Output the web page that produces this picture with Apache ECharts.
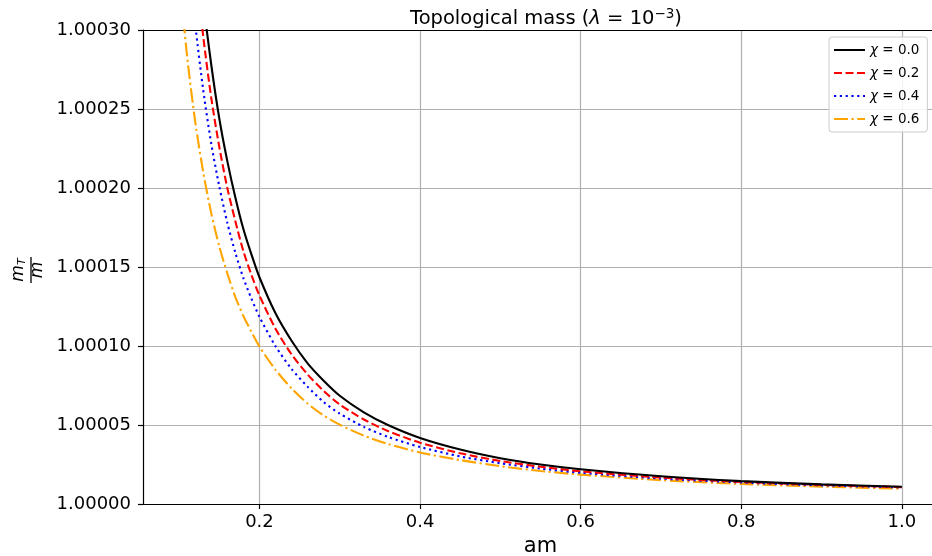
<!DOCTYPE html>
<html>
<head>
<meta charset="utf-8">
<script src="https://cdn.jsdelivr.net/npm/echarts@6/dist/echarts.min.js"></script>
<style>html,body{margin:0;padding:0;background:#fff;overflow:hidden}#c{width:932px;height:556px}</style>
</head>
<body>
<div id="c"></div>
<script>
// am values (x axis)
var amValues = [0.10, 0.11, 0.12, 0.13, 0.14, 0.15, 0.16, 0.17, 0.18, 0.19, 0.20, 0.22, 0.24, 0.26, 0.28, 0.30, 0.33, 0.36, 0.40, 0.45, 0.50, 0.55, 0.60, 0.70, 0.80, 0.90, 1.00];
// m_T / m for each chi
var chi00 = [1.000526, 1.000438, 1.000372, 1.000319, 1.000278, 1.000244, 1.000217, 1.000194, 1.000174, 1.000158, 1.0001435, 1.0001207, 1.0001033, 1.0000890, 1.0000780, 1.0000685, 1.0000580, 1.0000500, 1.0000418, 1.0000345, 1.0000290, 1.0000250, 1.0000220, 1.0000176, 1.0000145, 1.0000124, 1.0000109];
var chi02 = [1.000490, 1.000408, 1.000345, 1.000296, 1.000257, 1.000226, 1.000200, 1.000179, 1.000160, 1.000145, 1.0001320, 1.0001109, 1.0000947, 1.0000820, 1.0000715, 1.0000630, 1.0000535, 1.0000462, 1.0000388, 1.0000321, 1.0000272, 1.0000236, 1.0000207, 1.0000167, 1.0000140, 1.0000121, 1.0000107];
var chi04 = [1.000430, 1.000359, 1.000304, 1.000262, 1.000228, 1.000201, 1.000178, 1.000159, 1.000143, 1.000130, 1.0001185, 1.0000999, 1.0000855, 1.0000742, 1.0000645, 1.0000572, 1.0000488, 1.0000425, 1.0000361, 1.0000301, 1.0000258, 1.0000224, 1.0000198, 1.0000161, 1.0000136, 1.0000118, 1.0000105];
var chi06 = [1.000336, 1.000283, 1.000242, 1.000210, 1.000184, 1.000163, 1.000146, 1.000131, 1.000119, 1.000109, 1.0000996, 1.0000849, 1.0000732, 1.0000635, 1.0000560, 1.0000502, 1.0000433, 1.0000380, 1.0000326, 1.0000278, 1.0000239, 1.0000209, 1.0000186, 1.0000151, 1.0000127, 1.0000110, 1.0000097];
var chiLabels = ['0.0', '0.2', '0.4', '0.6'];
var xTicks = [0.2, 0.4, 0.6, 0.8, 1.0];

var seriesData = [chi00, chi02, chi04, chi06];
var colors = ['#000000', '#ff0000', '#0000ff', '#ffa500'];
var dashes = ['solid', [8, 3.5], [2.2, 3.6], [14, 3.5, 2.2, 3.5]];
var FONT = 'DejaVu Sans';

function pairs(ys) { return amValues.map(function (x, i) { return [x, ys[i]]; }); }

var series = seriesData.map(function (ys, k) {
  return {
    name: 'χ = ' + chiLabels[k],
    type: 'line',
    data: pairs(ys),
    showSymbol: false,
    symbol: 'none',
    smooth: 0.25,
    clip: true,
    color: colors[k],
    lineStyle: { color: colors[k], width: 2.1, type: dashes[k] },
    z: 10 - k
  };
});

var chart = echarts.init(document.getElementById('c'), null, { renderer: 'canvas' });
chart.setOption({
  animation: false,
  backgroundColor: '#ffffff',
  title: {
    text: '{a|Topological mass (}{i|λ}{a| = 10}{s|−3}{a|)}',
    left: 541, top: 2, textAlign: 'center',
    textStyle: {
      fontWeight: 'normal',
      rich: {
        a: { fontFamily: FONT, fontSize: 19.5, fontWeight: 'normal', color: '#000' },
        i: { fontFamily: FONT, fontSize: 19.5, fontWeight: 'normal', fontStyle: 'italic', color: '#000' },
        s: { fontFamily: FONT, fontSize: 13.5, fontWeight: 'normal', color: '#000', padding: [0, 0, 10, 0] }
      }
    }
  },
  grid: { left: 143, top: 30, width: 795, height: 474, outerBoundsMode: 'none', containLabel: false, show: false },
  legend: {
    orient: 'vertical', left: 829, top: 37,
    itemWidth: 31, itemHeight: 14, itemGap: 9,
    padding: [6, 8, 6, 4],
    backgroundColor: 'rgba(255,255,255,0.85)', borderColor: '#cccccc', borderWidth: 1, borderRadius: 3,
    itemStyle: { opacity: 0 },
    data: series.map(function (s) { return s.name; }),
    formatter: function (n) { return '{i|χ}{a| = ' + n.split('= ')[1] + '}'; },
    textStyle: {
      rich: {
        a: { fontFamily: FONT, fontSize: 13.5, color: '#000' },
        i: { fontFamily: FONT, fontSize: 13.5, fontStyle: 'italic', color: '#000' }
      }
    }
  },
  xAxis: [{
    type: 'value', min: 0.055, max: 1.045,
    name: 'am', nameLocation: 'middle', nameGap: 30,
    nameTextStyle: { fontFamily: FONT, fontSize: 21, color: '#000' },
    axisLine: { show: true, lineStyle: { color: '#000', width: 1.2 } },
    axisTick: { show: true, inside: false, length: 5, customValues: xTicks, lineStyle: { color: '#000', width: 1.2 } },
    axisLabel: { customValues: xTicks, margin: 9, fontFamily: FONT, fontSize: 18, color: '#000', formatter: function (v) { return v.toFixed(1); } },
    splitLine: { show: true, lineStyle: { color: '#b0b0b0', width: 1.2 } }
  }, {
    type: 'value', min: 0.055, max: 1.045, position: 'top',
    axisLine: { show: true, onZero: false, lineStyle: { color: '#000', width: 1.2 } },
    axisTick: { show: false }, axisLabel: { show: false }, splitLine: { show: false }
  }],
  yAxis: {
    type: 'value', min: 1.0, max: 1.0003, interval: 0.00005,
    axisLine: { show: true, lineStyle: { color: '#000', width: 1.2 } },
    axisTick: { show: true, inside: false, length: 5, lineStyle: { color: '#000', width: 1.2 } },
    axisLabel: { margin: 12, fontFamily: FONT, fontSize: 18, color: '#000', formatter: function (v) { return v.toFixed(5); } },
    splitLine: { show: true, lineStyle: { color: '#b0b0b0', width: 1.2 } }
  },
  graphic: [{
    type: 'group', x: 31, y: 270, rotation: Math.PI / 2,
    children: [
      { type: 'text', x: 0, y: -12, style: { text: '{m|m}{t|T}', rich: { m: { fontFamily: FONT, fontSize: 17, fontStyle: 'italic', fill: '#000' }, t: { fontFamily: FONT, fontSize: 11, fontStyle: 'italic', fill: '#000', padding: [6, 0, 0, 0] } }, align: 'center', verticalAlign: 'middle' } },
      { type: 'line', shape: { x1: -13, y1: 0, x2: 13, y2: 0 }, style: { stroke: '#000', lineWidth: 1.3 } },
      { type: 'text', x: 0, y: 7, style: { text: 'm', fontFamily: FONT, fontSize: 17, fontStyle: 'italic', fill: '#000', align: 'center', verticalAlign: 'middle' } }
    ]
  }],
  series: series
});
</script>
</body>
</html>
